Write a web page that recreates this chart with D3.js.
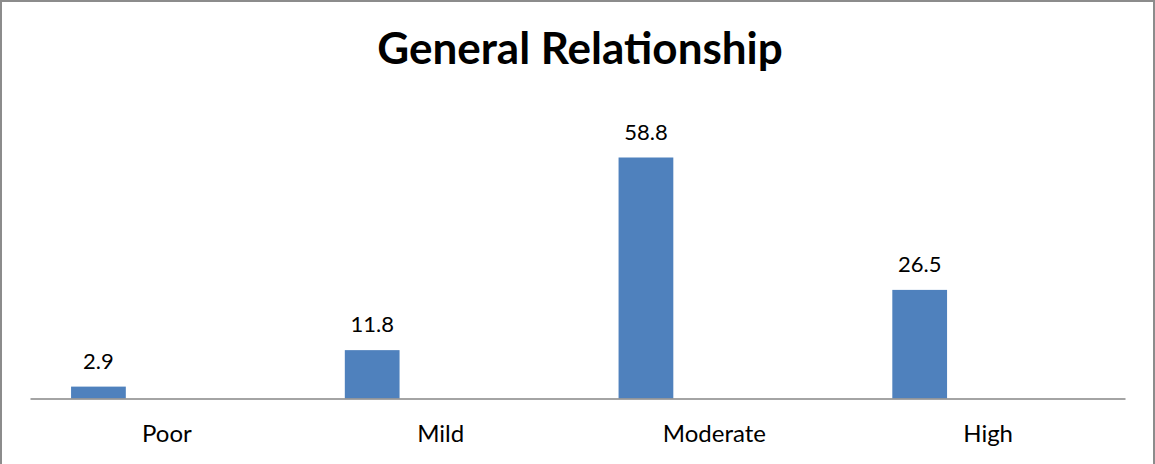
<!DOCTYPE html>
<html>
<head>
<meta charset="utf-8">
<script src="https://cdn.jsdelivr.net/npm/d3@7"></script>
<style>
  html, body { margin: 0; padding: 0; background: #fff; }
  svg { display: block; }
  text { font-family: Lato, "Open Sans", sans-serif; fill: #000; }
</style>
</head>
<body>
<script>
// Chart data
const categories = ["Poor", "Mild", "Moderate", "High"];
const values = [2.9, 11.8, 58.8, 26.5];
const title = "General Relationship";

const W = 1155, H = 464;
const svg = d3.select("body").append("svg").attr("width", W).attr("height", H);

// Outer frame
svg.append("rect")
  .attr("x", 1).attr("y", 1).attr("width", W - 2).attr("height", H + 4)
  .attr("fill", "#fff").attr("stroke", "#8c8c8c").attr("stroke-width", 2);

// Plot area
const plot = { left: 30, right: 1125, baseline: 398.5 };
const x = d3.scaleBand().domain(categories).range([plot.left, plot.right]).padding(0);
const y = d3.scaleLinear().domain([0, 58.8]).range([plot.baseline, 157.5]);

// Bars sit in the left part of each category slot
const barOffset = 0.15, barWidth = 0.2;

svg.append("g").selectAll("rect")
  .data(values)
  .join("rect")
  .attr("x", (d, i) => x(categories[i]) + x.bandwidth() * barOffset)
  .attr("width", x.bandwidth() * barWidth)
  .attr("y", d => y(d))
  .attr("height", d => y(0) - y(d))
  .attr("fill", "#4f81bd");

// Value labels
svg.append("g").selectAll("text")
  .data(values)
  .join("text")
  .attr("x", (d, i) => x(categories[i]) + x.bandwidth() * (barOffset + barWidth / 2))
  .attr("y", d => y(d) - 18)
  .attr("text-anchor", "middle")
  .attr("font-size", 22)
  .text(d => d.toFixed(1));

// Category axis
const axis = svg.append("g")
  .attr("transform", `translate(0,${plot.baseline})`)
  .call(d3.axisBottom(x).tickSize(0).tickPadding(0));
axis.select(".domain").attr("stroke", "#868686").attr("stroke-width", 1.5);
axis.selectAll(".tick text")
  .attr("dy", 0).attr("y", 43.5)
  .attr("font-size", 24)
  .attr("font-family", "Lato, 'Open Sans', sans-serif")
  .attr("fill", "#000");

// Title
svg.append("text")
  .attr("x", 580).attr("y", 64)
  .attr("text-anchor", "middle")
  .attr("font-size", 44)
  .attr("font-weight", "bold")
  .text(title);
</script>
</body>
</html>
